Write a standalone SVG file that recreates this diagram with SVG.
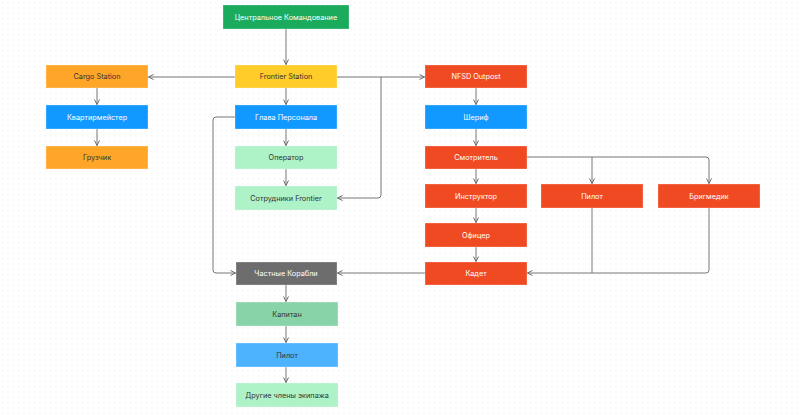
<svg xmlns="http://www.w3.org/2000/svg" width="800" height="415" viewBox="0 0 800 415">
<defs>
<pattern id="dots" width="5.333" height="5.333" patternUnits="userSpaceOnUse">
<rect x="2" y="2" width="1" height="1" fill="#e8e8e8"/>
</pattern>
<marker id="arr" viewBox="0 0 6 6" refX="6" refY="3" markerWidth="6" markerHeight="6" orient="auto" markerUnits="userSpaceOnUse">
<path d="M0.5,0.5 L5.5,3 L0.5,5.5" fill="none" stroke="#6e6e6e" stroke-width="1"/>
</marker>
<style>
text{font-family:Inter,"Noto Sans","Liberation Sans",sans-serif;font-size:7.3px;text-anchor:middle;dominant-baseline:central}
.w{fill:#ffffff}
.d{fill:#333333}
.n rect{stroke:#ffffff;stroke-opacity:0.35;stroke-width:0.8}
#connectors path{fill:none;stroke:#777777;stroke-width:1}
</style>
</defs>
<rect width="800" height="415" fill="#ffffff"/>
<rect width="800" height="415" fill="url(#dots)"/>
<g id="connectors">
<path d="M286,29 V65" marker-end="url(#arr)"/>
<path d="M235,77 H148" marker-end="url(#arr)"/>
<path d="M337,77 H425" marker-end="url(#arr)"/>
<path d="M381,77 V195 Q381,198 378,198 H337" marker-end="url(#arr)"/>
<path d="M97,88 V105" marker-end="url(#arr)"/>
<path d="M97,129 V146" marker-end="url(#arr)"/>
<path d="M286,88 V105" marker-end="url(#arr)"/>
<path d="M286,129 V146" marker-end="url(#arr)"/>
<path d="M286,169 V186" marker-end="url(#arr)"/>
<path d="M235,117 H216 Q213,117 213,120 V270 Q213,273 216,273 H236" marker-end="url(#arr)"/>
<path d="M476,88 V105" marker-end="url(#arr)"/>
<path d="M476,129 V146" marker-end="url(#arr)"/>
<path d="M476,169 V184" marker-end="url(#arr)"/>
<path d="M476,208 V223" marker-end="url(#arr)"/>
<path d="M476,247 V262" marker-end="url(#arr)"/>
<path d="M527,157 H592 V184" marker-end="url(#arr)"/>
<path d="M592,157 H706 Q709,157 709,160 V184" marker-end="url(#arr)"/>
<path d="M592,208 V273 H527" marker-end="url(#arr)"/>
<path d="M709,208 V270 Q709,273 706,273 H592"/>
<path d="M425,273 H337" marker-end="url(#arr)"/>
<path d="M286,285 V302" marker-end="url(#arr)"/>
<path d="M286,326 V343" marker-end="url(#arr)"/>
<path d="M286,367 V383" marker-end="url(#arr)"/>
</g>
<g id="central" class="n"><rect x="223" y="5" width="126" height="24" fill="#1aab5c"/><text x="286" y="17" class="w">Центральное Командование</text></g>
<g id="cargo" class="n"><rect x="46" y="65" width="102" height="23" fill="#ffa629"/><text x="97" y="76.5" class="d">Cargo Station</text></g>
<g id="frontier" class="n"><rect x="235" y="65" width="102" height="23" fill="#ffcc29"/><text x="286" y="76.5" class="d">Frontier Station</text></g>
<g id="nfsd" class="n"><rect x="425" y="65" width="102" height="23" fill="#f04a23"/><text x="476" y="76.5" class="w">NFSD Outpost</text></g>
<g id="quartermaster" class="n"><rect x="46" y="105" width="102" height="24" fill="#1199ff"/><text x="97" y="117" class="w">Квартирмейстер</text></g>
<g id="hop" class="n"><rect x="235" y="105" width="102" height="24" fill="#1199ff"/><text x="286" y="117" class="w">Глава Персонала</text></g>
<g id="sheriff" class="n"><rect x="425" y="105" width="102" height="24" fill="#1199ff"/><text x="476" y="117" class="w">Шериф</text></g>
<g id="loader" class="n"><rect x="46" y="146" width="102" height="23" fill="#ffa629"/><text x="97" y="157.5" class="d">Грузчик</text></g>
<g id="operator" class="n"><rect x="235" y="146" width="102" height="23" fill="#aef2c7"/><text x="286" y="157.5" class="d">Оператор</text></g>
<g id="warden" class="n"><rect x="425" y="146" width="102" height="23" fill="#f04a23"/><text x="476" y="157.5" class="w">Смотритель</text></g>
<g id="staff" class="n"><rect x="235" y="186" width="102" height="24" fill="#aef2c7"/><text x="286" y="198" class="d">Сотрудники Frontier</text></g>
<g id="instructor" class="n"><rect x="425" y="184" width="102" height="24" fill="#f04a23"/><text x="476" y="196" class="w">Инструктор</text></g>
<g id="pilot-sec" class="n"><rect x="541" y="184" width="102" height="24" fill="#f04a23"/><text x="592" y="196" class="w">Пилот</text></g>
<g id="brigmedic" class="n"><rect x="658" y="184" width="102" height="24" fill="#f04a23"/><text x="709" y="196" class="w">Бригмедик</text></g>
<g id="officer" class="n"><rect x="425" y="223" width="102" height="24" fill="#f04a23"/><text x="476" y="235" class="w">Офицер</text></g>
<g id="cadet" class="n"><rect x="425" y="262" width="102" height="23" fill="#f04a23"/><text x="476" y="273.5" class="w">Кадет</text></g>
<g id="private" class="n"><rect x="236" y="262" width="101" height="23" fill="#6d6d6d"/><text x="286" y="273.5" class="w">Частные Корабли</text></g>
<g id="captain" class="n"><rect x="236" y="302" width="102" height="24" fill="#88d4a8"/><text x="287" y="314" class="d">Капитан</text></g>
<g id="pilot-ship" class="n"><rect x="236" y="343" width="102" height="24" fill="#4eb3ff"/><text x="287" y="355" class="d">Пилот</text></g>
<g id="crew" class="n"><rect x="236" y="383" width="102" height="24" fill="#aef2c7"/><text x="287" y="395" class="d">Другие члены экипажа</text></g>
</svg>
